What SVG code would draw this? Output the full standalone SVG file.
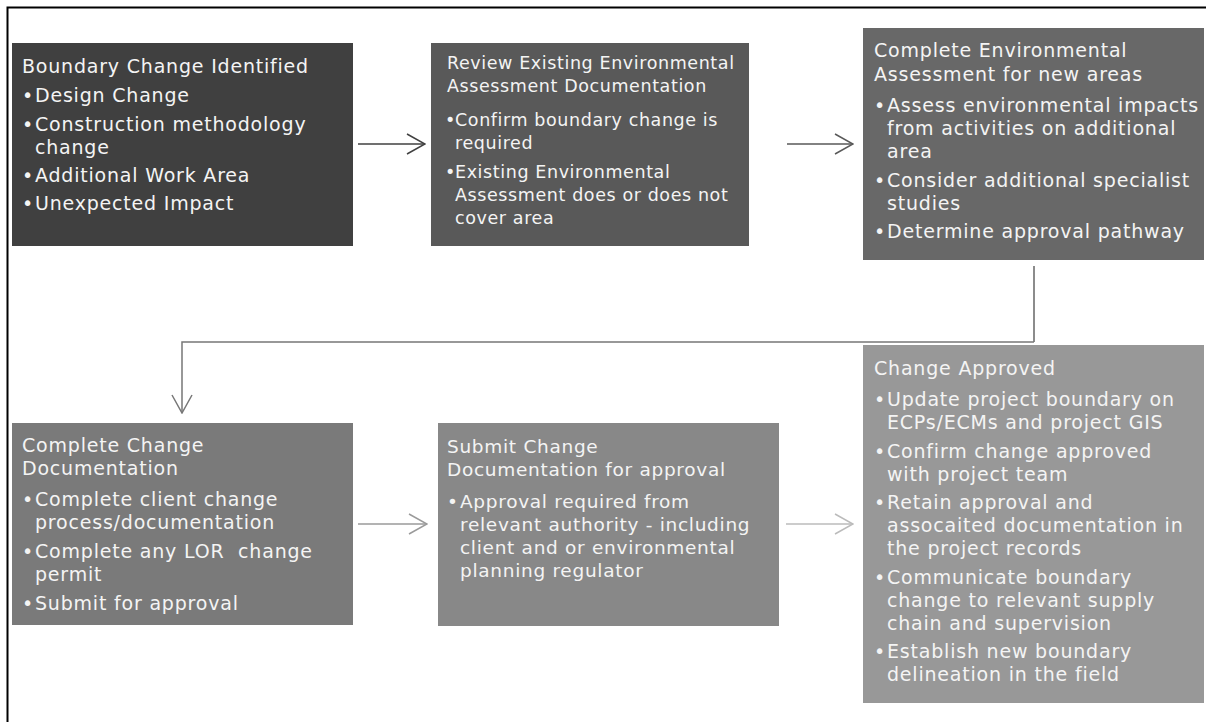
<svg xmlns="http://www.w3.org/2000/svg" width="1206" height="722" viewBox="0 0 1206 722">
<style>
  .t { font-family: "DejaVu Sans", "Liberation Sans", sans-serif; fill: #f4f4f4; font-size: 19px; letter-spacing: 0.8px; }
  .s2 { font-size: 17.5px; letter-spacing: 0.6px; }
  .s5 { font-size: 18.5px; letter-spacing: 0.7px; }
  .frame { fill: none; stroke: #000; stroke-width: 2; }
  .conn { fill: none; stroke-width: 1.5; }
</style>
<defs>
  <marker id="a1" viewBox="0 0 20 22" refX="19" refY="11" markerWidth="20" markerHeight="22" markerUnits="userSpaceOnUse" orient="auto"><path d="M1,1 L19,11 L1,21" fill="none" stroke="#404040" stroke-width="1.5"/></marker>
  <marker id="a2" viewBox="0 0 20 22" refX="19" refY="11" markerWidth="20" markerHeight="22" markerUnits="userSpaceOnUse" orient="auto"><path d="M1,1 L19,11 L1,21" fill="none" stroke="#595959" stroke-width="1.5"/></marker>
  <marker id="a3" viewBox="0 0 20 22" refX="19" refY="11" markerWidth="20" markerHeight="22" markerUnits="userSpaceOnUse" orient="auto"><path d="M1,1 L19,11 L1,21" fill="none" stroke="#777777" stroke-width="1.5"/></marker>
  <marker id="a4" viewBox="0 0 20 22" refX="19" refY="11" markerWidth="20" markerHeight="22" markerUnits="userSpaceOnUse" orient="auto"><path d="M1,1 L19,11 L1,21" fill="none" stroke="#9a9a9a" stroke-width="1.5"/></marker>
  <marker id="a5" viewBox="0 0 20 22" refX="19" refY="11" markerWidth="20" markerHeight="22" markerUnits="userSpaceOnUse" orient="auto"><path d="M1,1 L19,11 L1,21" fill="none" stroke="#bbbbbb" stroke-width="1.5"/></marker>
</defs>
<rect x="0" y="0" width="1206" height="722" fill="#fff"/>
<path class="frame" d="M7.5,722 V7.5 H1206"/>

<g id="connectors">
  <line class="conn" x1="358" y1="144" x2="425" y2="144" stroke="#404040" marker-end="url(#a1)"/>
  <line class="conn" x1="787" y1="144" x2="853" y2="144" stroke="#595959" marker-end="url(#a2)"/>
  <line class="conn" x1="1034" y1="266" x2="1034" y2="342" stroke="#666666"/>
  <path class="conn" d="M1034,342 H182 V413" stroke="#777777" marker-end="url(#a3)"/>
  <line class="conn" x1="358" y1="524" x2="427" y2="524" stroke="#9a9a9a" marker-end="url(#a4)"/>
  <line class="conn" x1="786" y1="524" x2="853" y2="524" stroke="#bbbbbb" marker-end="url(#a5)"/>
</g>

<g id="node1">
  <rect x="12" y="43" width="341" height="203" fill="#404040"/>
  <text class="t">
    <tspan x="22" y="73">Boundary Change Identified</tspan>
    <tspan x="22" y="102">•</tspan><tspan x="35" y="102">Design Change</tspan>
    <tspan x="22" y="131">•</tspan><tspan x="35" y="131">Construction methodology</tspan>
    <tspan x="35" y="154">change</tspan>
    <tspan x="22" y="182">•</tspan><tspan x="35" y="182">Additional Work Area</tspan>
    <tspan x="22" y="210">•</tspan><tspan x="35" y="210">Unexpected Impact</tspan>
  </text>
</g>

<g id="node2">
  <rect x="431" y="43" width="318" height="203" fill="#595959"/>
  <text class="t s2">
    <tspan x="447" y="69">Review Existing Environmental</tspan>
    <tspan x="447" y="92">Assessment Documentation</tspan>
    <tspan x="445" y="126">•</tspan><tspan x="455" y="126">Confirm boundary change is</tspan>
    <tspan x="455" y="149">required</tspan>
    <tspan x="445" y="178">•</tspan><tspan x="455" y="178">Existing Environmental</tspan>
    <tspan x="455" y="201">Assessment does or does not</tspan>
    <tspan x="455" y="224">cover area</tspan>
  </text>
</g>

<g id="node3">
  <rect x="863" y="28" width="341" height="232" fill="#686868"/>
  <text class="t">
    <tspan x="874" y="57">Complete Environmental</tspan>
    <tspan x="874" y="81">Assessment for new areas</tspan>
    <tspan x="874" y="112">•</tspan><tspan x="887" y="112">Assess environmental impacts</tspan>
    <tspan x="887" y="135">from activities on additional</tspan>
    <tspan x="887" y="158">area</tspan>
    <tspan x="874" y="187">•</tspan><tspan x="887" y="187">Consider additional specialist</tspan>
    <tspan x="887" y="210">studies</tspan>
    <tspan x="874" y="238">•</tspan><tspan x="887" y="238">Determine approval pathway</tspan>
  </text>
</g>

<g id="node4">
  <rect x="12" y="423" width="341" height="202" fill="#7a7a7a"/>
  <text class="t">
    <tspan x="22" y="452">Complete Change</tspan>
    <tspan x="22" y="475">Documentation</tspan>
    <tspan x="22" y="506">•</tspan><tspan x="35" y="506">Complete client change</tspan>
    <tspan x="35" y="529">process/documentation</tspan>
    <tspan x="22" y="558">•</tspan><tspan x="35" y="558">Complete any LOR&#160; change</tspan>
    <tspan x="35" y="581">permit</tspan>
    <tspan x="22" y="610">•</tspan><tspan x="35" y="610">Submit for approval</tspan>
  </text>
</g>

<g id="node5">
  <rect x="438" y="423" width="341" height="203" fill="#888888"/>
  <text class="t s5">
    <tspan x="447" y="453">Submit Change</tspan>
    <tspan x="447" y="476">Documentation for approval</tspan>
    <tspan x="447" y="508">•</tspan><tspan x="460" y="508">Approval required from</tspan>
    <tspan x="460" y="531">relevant authority - including</tspan>
    <tspan x="460" y="554">client and or environmental</tspan>
    <tspan x="460" y="577">planning regulator</tspan>
  </text>
</g>

<g id="node6">
  <rect x="863" y="345" width="341" height="358" fill="#989898"/>
  <text class="t">
    <tspan x="874" y="375">Change Approved</tspan>
    <tspan x="874" y="406">•</tspan><tspan x="887" y="406">Update project boundary on</tspan>
    <tspan x="887" y="429">ECPs/ECMs and project GIS</tspan>
    <tspan x="874" y="458">•</tspan><tspan x="887" y="458">Confirm change approved</tspan>
    <tspan x="887" y="481">with project team</tspan>
    <tspan x="874" y="509">•</tspan><tspan x="887" y="509">Retain approval and</tspan>
    <tspan x="887" y="532">assocaited documentation in</tspan>
    <tspan x="887" y="555">the project records</tspan>
    <tspan x="874" y="584">•</tspan><tspan x="887" y="584">Communicate boundary</tspan>
    <tspan x="887" y="607">change to relevant supply</tspan>
    <tspan x="887" y="630">chain and supervision</tspan>
    <tspan x="874" y="658">•</tspan><tspan x="887" y="658">Establish new boundary</tspan>
    <tspan x="887" y="681">delineation in the field</tspan>
  </text>
</g>
</svg>
